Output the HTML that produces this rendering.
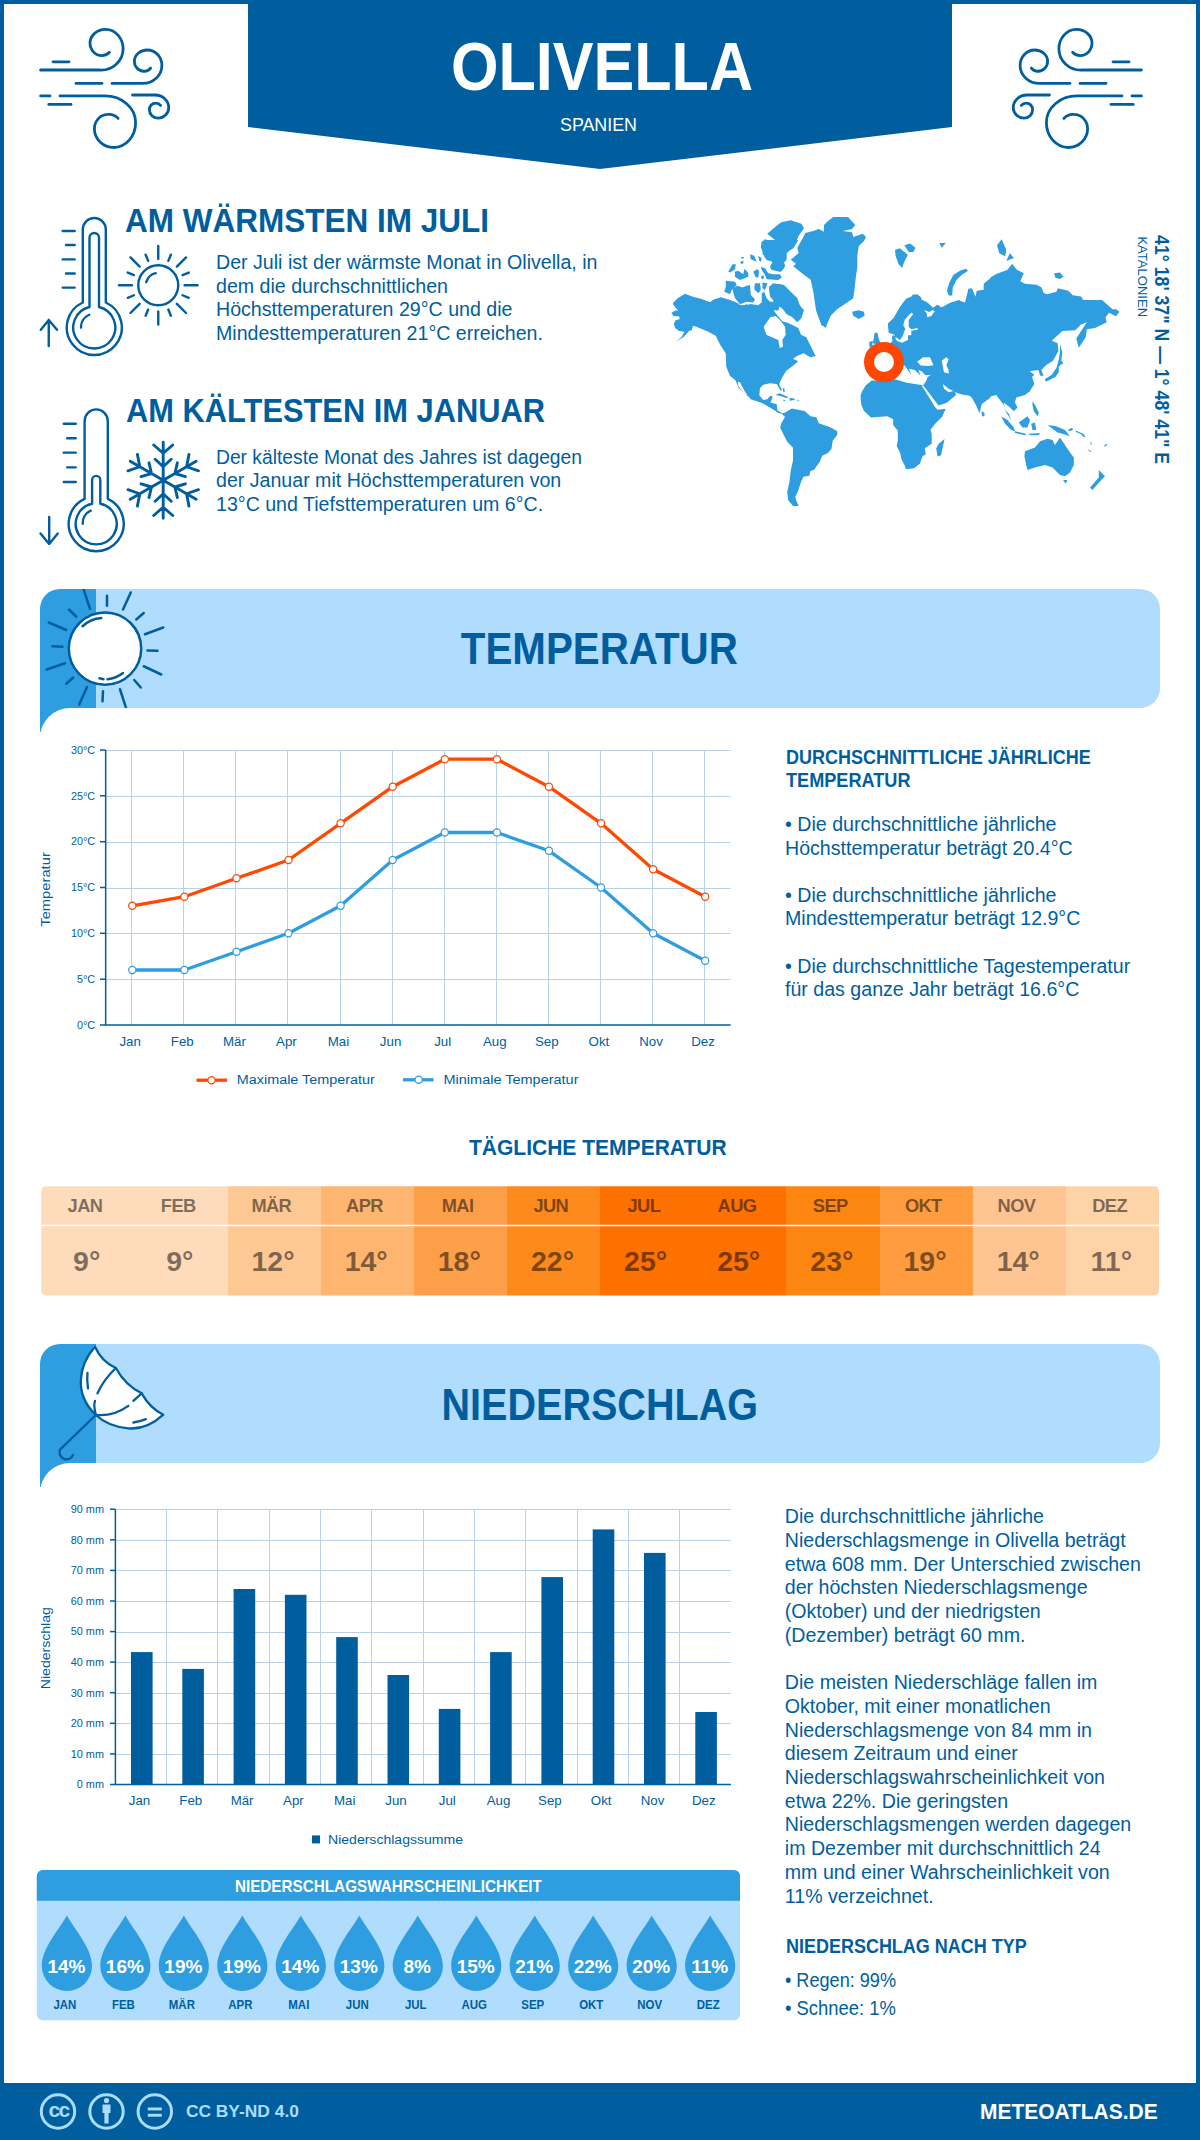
<!DOCTYPE html>
<html><head><meta charset="utf-8">
<style>
html,body{margin:0;padding:0;}
body{width:1200px;height:2140px;position:relative;overflow:hidden;background:#fff;font-family:"Liberation Sans",sans-serif;}
svg{position:absolute;left:0;top:0;}
.b{font-weight:bold;}
</style></head><body>
<svg width="1200" height="2140" viewBox="0 0 1200 2140" font-family="'Liberation Sans', sans-serif">
<!-- page border -->
<rect x="2" y="2" width="1196" height="2136" fill="none" stroke="#005e9f" stroke-width="4"/>
<!-- header banner -->
<polygon points="248,0 952,0 952,127 600,169 248,127" fill="#005e9f"/>
<text x="451" y="90" font-size="68" font-weight="bold" fill="#fff" textLength="302" lengthAdjust="spacingAndGlyphs">OLIVELLA</text>
<text x="560" y="130.7" font-size="18.8" fill="#fff" textLength="77" lengthAdjust="spacingAndGlyphs">SPANIEN</text>
<g id="wind" fill="none" stroke="#005e9f" stroke-width="2.8" stroke-linecap="round">
<path d="M53,61.8 H69"/>
<path d="M40.6,70 H100 A22 21.25 0 0 0 123.1,48.75 A17.5 19.35 0 0 0 105.6,29.4 A15.6 13.7 0 0 0 90,43.1 A11.9 12.5 0 0 0 101.9,55.6 A10 10 0 0 0 109.4,52.25"/>
<path d="M76,83.4 H102 M112,83.4 H142.5 A19.4 17.8 0 0 0 161.9,65.6 A14.65 15.6 0 0 0 147.25,50 A12.85 11.25 0 0 0 134.4,61.25 A9.35 10 0 0 0 143.75,71.25 A8 8 0 0 0 150.6,68.1"/>
<path d="M40.6,95.9 H50 M60,95.9 H105 A30.6 26.6 0 0 1 135.6,122.5 A21.85 25 0 0 1 113.75,147.5 A19.35 18.75 0 0 1 94.4,128.75 A13.7 14.35 0 0 1 108.1,114.4 A12 12 0 0 1 118.1,118.4"/>
<path d="M48.75,104.4 H71"/>
<path d="M132.5,95 H155 A13.75 12.5 0 0 1 168.75,107.5 A10.65 10.6 0 0 1 158.1,118.1 A8.7 8.35 0 0 1 149.4,109.75 A6.2 6.65 0 0 1 155.6,103.1 A6 6 0 0 1 160.6,105.4"/>
</g>
<use href="#wind" transform="translate(1182,0) scale(-1,1)"/>

<g fill="none" stroke="#005e9f" stroke-width="2.4" stroke-linecap="round" stroke-linejoin="round">
<path d="M82.8,302.5 V229.5 A11.5 11.5 0 0 1 105.8,229.5 V302.5 A27.5 27.5 0 1 1 82.8,302.5 Z"/>
<path d="M89.5,307 V237.8 A4.75 4.75 0 0 1 99,237.8 V307 A21 21 0 1 1 89.5,307 Z"/>
<path d="M81,327.5 A13.5 13.5 0 0 1 89.25,314.75"/>
<path d="M62.7,231 H74.7 M66,245 H74.7 M62.7,259.4 H74.7 M66,273.5 H74.7 M62.7,287.6 H74.7"/>
<path d="M48.75,346 V320 M40.8,329.75 L48.75,320 L57,329.75"/>
<circle cx="158.25" cy="285.2" r="20"/>
<path d="M146.25,282.2 A13 13 0 0 1 155.7,273.2"/>
<path d="M184.55,285.20 L197.55,285.20 M182.55,295.26 L188.74,297.83 M176.85,303.80 L186.04,312.99 M168.31,309.50 L170.88,315.69 M158.25,311.50 L158.25,324.50 M148.19,309.50 L145.62,315.69 M139.65,303.80 L130.46,312.99 M133.95,295.26 L127.76,297.83 M131.95,285.20 L118.95,285.20 M133.95,275.14 L127.76,272.57 M139.65,266.60 L130.46,257.41 M148.19,260.90 L145.62,254.71 M158.25,258.90 L158.25,245.90 M168.31,260.90 L170.88,254.71 M176.85,266.60 L186.04,257.41 M182.55,275.14 L188.74,272.57"/>
<path d="M84.6,498.8 V421 A11.6 11.6 0 0 1 107.8,421 V498.8 A27.5 27.5 0 1 1 84.6,498.8 Z"/>
<path d="M92.1,503.8 V480 A4.1 4.1 0 0 1 100.3,480 V503.8 A20.5 20.5 0 1 1 92.1,503.8 Z"/>
<path d="M82.7,523.75 A13.5 13.5 0 0 1 90.75,510.7"/>
<path d="M63.75,423.7 H75.75 M67.2,438.25 H75.75 M63.75,452.65 H75.75 M67.2,467.35 H75.75 M63.75,482 H75.75"/>
<path d="M49.2,517 V544 M40.5,533.5 L49.2,544 L57.75,533.5"/>
<path stroke-width="2.9" d="M163.20,480.25 L163.20,442.25 M172.70,445.00 L163.20,453.25 L153.70,445.00 M171.20,459.25 L163.20,466.75 L155.20,459.25 M163.20,480.25 L196.11,461.25 M198.48,470.85 L186.58,466.75 L188.98,454.40 M185.39,476.68 L174.89,473.50 L177.39,462.82 M163.20,480.25 L196.11,499.25 M188.98,506.10 L186.58,493.75 L198.48,489.65 M177.39,497.68 L174.89,487.00 L185.39,483.82 M163.20,480.25 L163.20,518.25 M153.70,515.50 L163.20,507.25 L172.70,515.50 M155.20,501.25 L163.20,493.75 L171.20,501.25 M163.20,480.25 L130.29,499.25 M127.92,489.65 L139.82,493.75 L137.42,506.10 M141.01,483.82 L151.51,487.00 L149.01,497.68 M163.20,480.25 L130.29,461.25 M137.42,454.40 L139.82,466.75 L127.92,470.85 M149.01,462.82 L151.51,473.50 L141.01,476.68"/>
</g>
<g fill="#005e9f">
<text x="125" y="231.75" font-size="32.3" font-weight="bold" textLength="364" lengthAdjust="spacingAndGlyphs">AM WÄRMSTEN IM JULI</text>
<g font-size="19.6">
<text x="216" y="269" textLength="381.5" lengthAdjust="spacingAndGlyphs">Der Juli ist der wärmste Monat in Olivella, in</text>
<text x="216" y="292.5">dem die durchschnittlichen</text>
<text x="216" y="316">Höchsttemperaturen 29°C und die</text>
<text x="216" y="339.5">Mindesttemperaturen 21°C erreichen.</text>
</g>
<text x="126" y="422" font-size="32.3" font-weight="bold" textLength="419" lengthAdjust="spacingAndGlyphs">AM KÄLTESTEN IM JANUAR</text>
<g font-size="19.6">
<text x="216" y="464" textLength="366" lengthAdjust="spacingAndGlyphs">Der kälteste Monat des Jahres ist dagegen</text>
<text x="216" y="487.25">der Januar mit Höchsttemperaturen von</text>
<text x="216" y="510.5">13°C und Tiefsttemperaturen um 6°C.</text>
</g>
</g>

<!--MAPSTART--><g fill="#2e9ee0"><path d="M673.0,303.0L677.7,298.3L685.0,293.7L690.3,295.7L693.7,297.0L701.7,299.0L710.3,302.3L713.0,299.7L721.0,297.3L725.0,300.3L729.0,299.7L738.3,304.3L745.0,306.0L750.3,304.0L758.3,305.3L761.0,302.7L766.3,302.7L771.7,306.7L775.7,313.3L782.3,321.3L787.7,322.7L793.0,325.3L798.3,328.0L801.0,334.7L806.3,337.3L810.3,345.3L813.0,350.7L815.7,356.0L810.3,357.3L803.7,353.3L797.0,356.0L793.0,358.7L798.3,361.3L791.7,366.7L786.3,370.7L782.3,377.3L779.7,382.7L779.3,384.7L782.0,390.0L780.7,390.7L776.7,384.0L770.0,383.3L763.3,384.7L760.0,388.0L759.3,395.3L763.3,400.0L767.3,399.3L770.0,396.0L772.7,396.3L770.7,402.7L776.7,404.0L777.3,410.0L782.0,413.3L785.3,412.7L784.7,416.7L782.0,414.0L778.0,412.7L774.0,410.0L767.3,406.0L761.3,402.7L750.7,399.3L749.3,397.3L745.0,394.0L742.0,391.3L738.7,388.0L736.7,383.3L735.3,380.0L730.0,376.0L726.3,366.7L725.7,353.3L720.3,345.0L715.7,335.7L708.3,331.7L697.0,327.0L693.0,325.7L691.7,330.3L689.0,331.0L683.7,337.0L675.7,341.7L681.7,337.0L684.3,331.7L679.0,331.0L675.0,327.7L673.7,323.7L675.7,320.3L679.7,319.0L679.0,316.3L673.7,316.3L671.3,313.0L675.7,310.3L678.3,311.0L673.0,304.3Z"/><path d="M767.3,233.7L776.0,226.3L781.3,222.3L790.7,220.3L801.3,223.7L804.0,228.3L798.7,235.7L794.7,245.0L788.0,251.7L782.7,258.3L785.3,266.3L780.0,271.7L770.7,267.7L773.3,261.0L768.0,258.3L762.7,254.3L761.3,242.3L765.3,239.0L770.7,243.7L777.3,245.0L774.7,239.7Z"/><path d="M769.3,286.3L778.7,283.7L784.0,285.0L792.0,293.0L797.3,298.3L800.0,306.3L804.0,310.3L801.3,318.3L797.3,322.3L792.0,317.0L786.7,314.3L782.7,309.0L776.0,303.7L772.0,298.3L769.3,291.7Z"/><path d="M852.0,311.7L858.7,310.3L864.0,311.7L864.7,315.7L858.7,319.0L853.3,315.7Z"/><path d="M725.8,280.8L735.0,281.7L736.7,285.0L731.7,290.0L730.0,294.2L724.2,291.7L725.8,286.7Z"/><path d="M732.5,288.3L737.5,285.8L742.5,287.5L746.7,285.8L750.0,285.0L750.8,295.0L755.0,299.2L753.3,302.5L746.7,301.7L740.0,304.2L735.0,298.3L733.3,292.5Z"/><path d="M728.3,271.7L732.5,264.2L735.8,264.2L735.0,269.2L730.0,272.5Z"/><path d="M735.0,271.7L738.3,270.8L743.3,274.2L744.2,269.2L745.8,270.0L748.3,273.3L748.3,276.7L740.0,280.0L735.0,276.7Z"/><path d="M740.0,261.7L743.3,260.8L743.3,263.3L741.7,264.2Z"/><path d="M740.8,257.5L743.3,256.7L744.2,257.9L741.7,258.8Z"/><path d="M750.0,254.2L754.2,255.8L756.7,261.7L750.8,259.2Z"/><path d="M758.3,255.8L761.7,258.3L760.8,261.7L759.2,260.8Z"/><path d="M753.3,271.7L756.7,269.2L759.2,270.8L758.3,277.5L755.8,277.5Z"/><path d="M760.8,266.7L765.0,268.3L768.3,273.3L773.3,274.2L780.0,274.2L781.7,277.5L778.3,280.0L766.7,279.2L765.0,275.0L761.7,270.0Z"/><path d="M760.8,276.7L763.3,275.0L764.2,278.3L761.7,279.2Z"/><path d="M755.0,283.3L760.0,283.3L760.8,290.0L758.3,293.3L754.2,289.2Z"/><path d="M762.5,282.5L767.5,283.3L765.0,290.0L762.5,288.3Z"/><path d="M769.2,286.7L773.3,283.3L778.3,284.2L781.7,290.0L787.5,291.7L790.0,296.7L796.7,300.0L798.3,303.3L803.3,310.0L801.7,315.0L796.7,311.7L790.0,315.0L785.8,313.3L788.3,308.3L783.3,305.0L778.3,300.0L773.3,300.0L770.0,296.7Z"/><path d="M761.7,293.3L764.2,291.7L766.7,298.3L770.0,301.7L773.3,301.7L775.0,305.0L773.3,315.0L761.7,315.0Z"/><path d="M773.3,300.0L778.3,300.8L780.0,305.0L778.3,310.8L773.3,310.0Z"/><path d="M761.7,243.3L765.0,240.0L798.3,240.0L793.3,248.3L786.7,252.5L786.7,259.2L781.7,265.8L784.2,268.3L780.8,271.7L771.7,270.0L770.0,266.7L772.5,261.7L766.7,260.0L764.2,256.7L763.3,252.5L760.8,247.5Z"/><path d="M715.0,300.0L721.7,297.5L730.0,300.0L738.3,303.3L738.3,306.7L746.7,304.2L751.7,305.8L758.3,306.7L761.7,305.0L763.3,303.3L765.0,315.0L715.0,315.0Z"/><path d="M833.3,217.0L848.0,217.0L855.3,225.0L852.0,229.0L842.7,231.0L852.0,232.3L853.3,237.0L862.7,233.7L866.0,237.0L864.0,241.0L858.7,246.3L857.3,255.7L857.3,267.7L856.0,275.7L854.7,287.7L853.3,298.3L845.3,303.7L837.3,309.0L830.7,315.7L826.7,325.0L826.0,328.0L821.3,325.0L816.0,310.3L813.3,291.7L810.7,279.7L800.0,271.7L793.3,266.3L796.0,263.7L790.7,259.7L798.7,253.0L797.3,247.7L802.7,238.3L805.3,233.0L813.3,231.0L818.7,229.0L824.0,231.7L824.0,225.0L828.0,221.0Z"/><path d="M895.0,250.0L899.7,248.3L907.8,254.7L904.3,261.7L902.0,268.1L898.5,264.0L895.6,255.8Z"/><path d="M904.3,245.3L910.2,243.6L915.4,247.7L913.7,251.8L909.0,252.3Z"/><path d="M939.3,243.0L945.8,243.0L941.7,247.7Z"/><path d="M966.2,268.7L967.9,271.0L961.5,275.1L956.3,280.3L952.8,287.3L952.2,295.5L948.7,295.5L946.9,290.8L949.3,282.7L953.3,275.1L960.3,270.4Z"/><path d="M997.0,245.2L1001.7,239.3L1006.3,249.8L1005.2,256.3L999.3,253.3Z"/><path d="M1006.3,260.9L1009.8,253.3L1013.9,258.0Z"/><path d="M1054.2,273.2L1060.0,272.6L1063.5,276.7L1060.0,279.0L1055.3,277.8Z"/><path d="M874.6,332.7L877.5,332.7L878.7,338.5L880.4,343.2L876.3,344.3L872.8,343.2L874.0,337.3Z"/><path d="M869.3,342.0L872.8,340.8L872.3,346.7L869.3,346.7Z"/><path d="M923.0,385.2L926.0,389.0L932.0,397.0L938.5,405.5L946.8,402.8L956.2,394.7L953.8,390.0L950.0,387.0L955.7,392.5L962.0,394.5L969.7,395.7L972.0,398.0L976.0,405.2L979.5,413.3L981.8,404.0L990.0,398.0L991.2,396.2L996.2,395.0L1000.0,400.0L1003.8,405.0L1006.2,412.5L1011.2,420.0L1008.8,413.8L1005.0,410.0L1003.8,402.5L1010.0,407.5L1013.8,411.2L1017.5,407.5L1015.0,402.5L1016.2,397.5L1025.0,395.0L1031.2,390.0L1028.5,393.3L1034.3,384.0L1032.0,377.0L1034.3,374.7L1029.7,371.2L1038.4,370.0L1040.2,375.8L1043.7,375.8L1041.3,370.0L1046.0,365.3L1053.0,360.7L1058.3,351.3L1057.7,343.2L1051.8,340.8L1062.3,330.9L1075.2,330.3L1081.0,324.5L1086.8,322.2L1076.3,338.5L1078.7,347.8L1085.7,337.3L1086.8,329.2L1095.0,328.0L1106.7,322.2L1105.5,317.5L1109.0,312.8L1116.0,316.3L1119.5,311.7L1116.0,309.3L1112.5,309.3L1102.0,300.0L1095.0,300.0L1083.3,300.0L1081.0,296.5L1072.8,295.3L1068.2,290.7L1057.7,288.3L1056.5,291.8L1047.2,294.2L1043.7,293.0L1041.3,287.2L1036.7,284.8L1025.0,283.7L1020.3,281.3L1023.8,273.2L1016.8,269.7L1012.2,263.8L1007.5,269.7L995.8,274.3L990.0,277.8L990.7,278.0L983.7,283.8L983.7,289.7L976.7,290.8L975.5,296.7L972.0,288.5L968.5,288.5L965.0,302.5L958.0,300.2L951.0,302.5L941.7,307.2L935.8,306.0L932.3,308.3L930.0,311.8L925.3,309.5L928.8,303.7L921.8,300.2L920.7,296.7L914.8,294.9L906.7,299.0L899.7,308.3L892.7,320.0L893.8,317.5L888.0,324.5L889.2,332.7L895.0,335.0L893.8,339.7L891.5,342.0L886.8,346.7L883.3,346.7L878.7,350.2L871.7,352.5L869.3,360.7L870.5,370.0L877.5,372.3L889.2,370.0L898.5,365.3L904.3,365.3L911.3,374.7L909.0,368.8L914.8,370.0L920.7,375.8L918.3,370.0L921.8,371.2L925.3,375.3L931.2,374.7L927.7,377.0L925.9,381.7Z"/><path d="M888.0,323.3L893.3,318.7L900.0,306.7L906.0,298.7L911.3,296.7L912.7,294.7L917.3,294.3L920.0,296.7L920.7,299.3L926.7,302.0L932.7,307.3L932.7,310.0L936.7,304.7L940.0,306.0L940.7,309.3L946.7,304.7L949.3,303.3L956.7,301.3L960.0,300.0L960.0,345.0L892.7,345.0L892.0,336.7L894.0,334.7L896.0,338.0L897.3,338.7L895.3,332.0L890.7,333.3L888.7,332.7Z"/><path d="M923.0,385.2L906.7,382.8L895.0,379.3L881.0,380.5L871.7,380.5L865.8,385.2L862.3,391.0L860.5,395.8L861.1,404.0L864.0,411.0L871.0,417.4L880.3,416.8L887.3,416.3L893.2,419.2L893.2,425.0L897.8,430.8L897.8,440.2L896.7,446.0L900.2,453.0L901.3,458.8L904.8,465.8L906.0,469.3L914.2,468.2L920.0,463.5L922.3,456.5L925.8,454.2L924.7,448.3L931.7,443.7L931.7,434.3L930.5,429.7L935.2,423.8L942.2,416.8L945.7,408.7L937.5,409.8L935.0,407.0L924.5,390.0L922.0,386.0Z"/><path d="M944.5,439.0L943.3,444.8L941.0,455.3L937.5,456.5L936.3,448.3L938.7,443.7Z"/><path d="M1025.0,451.2L1035.0,447.5L1040.0,441.2L1047.5,438.8L1052.5,440.0L1055.0,445.0L1060.0,437.5L1065.0,445.0L1070.0,452.5L1073.8,457.5L1073.8,465.0L1070.0,472.5L1065.0,476.2L1060.0,475.0L1055.0,470.0L1052.5,467.5L1045.0,465.0L1035.0,467.5L1027.5,470.0L1026.2,465.0L1024.4,456.2Z"/><path d="M1063.1,480.0L1067.5,480.0L1065.6,483.8Z"/><path d="M1098.8,470.0L1105.0,476.2L1101.2,480.0L1092.5,490.0L1090.0,487.5L1098.8,477.5Z"/><path d="M1047.5,425.0L1056.2,426.2L1065.0,430.0L1070.0,436.2L1062.5,433.8L1057.5,432.5L1052.5,428.8Z"/><path d="M1018.8,422.5L1027.5,416.2L1030.0,420.0L1027.5,427.5L1022.5,427.5Z"/><path d="M1001.2,416.2L1007.5,420.0L1013.8,427.5L1015.0,431.2L1011.2,430.0L1005.0,423.8Z"/><path d="M1015.0,431.2L1026.2,433.8L1025.0,435.2L1015.0,433.1Z"/><path d="M1032.5,401.2L1035.0,405.0L1038.8,412.5L1037.5,416.2L1033.8,411.2L1032.5,405.0Z"/><path d="M981.5,411.0L984.5,413.0L984.5,416.0L982.0,416.5Z"/><path d="M1031.2,423.8L1035.0,422.5L1036.2,430.0L1032.5,430.0Z"/><path d="M1028.8,433.8L1040.0,433.1L1038.8,435.0L1030.0,435.2Z"/><path d="M1060.0,344.3L1062.3,352.5L1061.2,360.7L1063.5,363.0L1058.8,366.5L1058.8,372.3L1055.3,377.0L1046.0,381.7L1044.8,379.3L1051.8,374.7L1056.5,367.7L1058.8,359.5L1060.0,352.5Z"/><path d="M1068.0,430.0L1071.3,428.0L1073.3,428.7L1072.7,430.0L1069.3,431.3Z"/><path d="M1075.3,430.3L1077.3,431.3L1082.0,433.3L1084.0,434.3L1085.3,437.3L1083.3,436.7L1081.3,434.3L1076.0,432.0Z"/><path d="M1090.0,442.0L1091.0,442.3L1092.0,444.7L1091.0,444.8Z"/><path d="M1087.3,449.3L1088.7,449.7L1091.3,451.3L1090.3,452.0Z"/><path d="M1104.0,446.0L1106.0,444.0L1107.3,444.3L1105.3,446.7Z"/><path d="M784.8,412.7L791.8,408.6L804.7,410.9L810.5,416.2L816.3,417.3L818.7,423.2L830.3,427.3L837.3,431.3L837.3,434.8L832.7,440.7L831.5,448.8L828.0,452.9L822.2,455.8L819.8,461.7L814.0,469.8L810.5,471.0L809.3,475.7L803.5,476.8L801.2,481.5L797.7,492.0L795.3,496.7L796.5,501.3L798.8,506.0L793.0,506.0L788.3,500.2L787.2,492.0L789.5,481.5L790.7,471.0L793.0,460.5L793.0,447.7L787.2,441.8L782.5,432.5L780.2,427.8L781.3,423.2L784.8,417.3Z"/><path d="M776.0,394.7L779.3,393.3L783.3,394.7L788.7,397.3L786.0,398.0L780.7,396.0L776.7,395.3Z"/><path d="M789.3,398.0L793.3,398.3L795.3,399.7L790.0,400.7Z"/><path d="M783.3,399.7L785.3,400.0L785.0,401.0L783.3,400.8Z"/><path d="M797.3,399.7L799.3,400.0L799.0,400.8L797.3,400.7Z"/><path d="M782.7,388.0L784.3,388.3L784.7,392.0L783.3,392.3Z"/></g><g fill="#fff"><path d="M763.7,326.7L770.3,317.3L775.7,316.0L781.0,321.3L785.0,326.7L785.7,334.7L782.3,340.0L783.0,346.7L779.7,348.0L778.3,340.0L771.7,337.3L766.3,334.7Z"/><path d="M917.2,361.8L923.0,357.2L930.0,357.2L933.5,365.3L927.7,365.9L920.7,365.6Z"/><path d="M941.7,360.7L946.3,357.2L948.7,359.5L946.3,365.3L948.7,370.0L948.7,373.5L944.0,372.3L942.8,366.5Z"/><path d="M924.0,310.0L929.3,312.0L932.7,310.0L934.7,311.3L931.3,316.0L927.3,317.3L926.7,313.3Z"/><path d="M908.0,316.0L911.3,312.7L913.3,314.0L908.7,320.0L908.7,326.7L911.3,329.3L917.3,328.0L918.0,329.7L911.3,330.7L911.3,335.3L908.0,335.3L908.0,340.0L902.0,342.7L896.7,340.7L895.3,338.0L896.0,337.3L900.0,340.0L902.7,336.0L905.3,328.7L903.3,325.3L904.7,320.0Z"/><path d="M942.8,384.0L948.7,388.7L953.3,391.0L948.7,392.2L944.0,388.7Z"/><path d="M737.7,381.7L740.0,382.3L745.0,391.7L747.3,394.7L746.0,395.0L742.7,392.0L738.3,385.7Z"/></g><circle cx="884" cy="362" r="15" fill="#fff" stroke="#ff4600" stroke-width="10"/><!--MAPEND-->
<text transform="translate(1154.7,235.1) rotate(90)" font-size="20.8" font-weight="bold" fill="#005e9f" textLength="229" lengthAdjust="spacingAndGlyphs">41° 18' 37" N — 1° 48' 41" E</text>
<text transform="translate(1138,236.4) rotate(90)" font-size="12.6" fill="#005e9f" textLength="80.7" lengthAdjust="spacingAndGlyphs">KATALONIEN</text>
<!--TEMPHDR-->
<path d="M40,609 A20,20 0 0 1 60,589 H96 V732 H40 Z" fill="#2e9ee0"/>
<path d="M96,589 H1140 A20,20 0 0 1 1160,609 V688 A20,20 0 0 1 1140,708 H96 Z" fill="#b0dcfd"/>
<path d="M40,738 A30,30 0 0 1 70,708 H110 V749 H40 Z" fill="#fff"/>
<clipPath id="cp589"><rect x="40" y="589" width="200" height="119"/></clipPath>
<g clip-path="url(#cp589)"><g fill="none" stroke="#005e9f" stroke-width="2.5" stroke-linecap="round"><path d="M81.5,583 L90,608.75"/><path d="M107,595.75 L107,605.75"/><path d="M130.75,592.5 L123,609.5"/><path d="M143.75,613 L136.25,619.5"/><path d="M163.25,627.5 L145,634.25"/><path d="M157.5,650.75 L147.5,650.5"/><path d="M161.25,674.5 L143.75,666.25"/><path d="M140.75,687.5 L134.25,680"/><path d="M128,714 L120,689.25"/><path d="M102.5,701.25 L103,691.25"/><path d="M79.25,704.5 L87,687"/><path d="M66.25,683.75 L73.25,677.5"/><path d="M46.75,669.5 L65,663.25"/><path d="M52.5,646.25 L62.5,646.75"/><path d="M48.75,622.5 L66.25,630"/><path d="M69,609.5 L76.25,616.75"/><circle cx="105" cy="648.6" r="36.2" fill="#fff"/><path d="M82.5,626.25 A31 31 0 0 1 101.25,618"/><path d="M99.5,678.25 L103.5,679.2 M107.5,679.25 A31 31 0 0 0 123,673"/></g></g>
<text x="460.8" y="663.8" font-size="43.6" font-weight="bold" fill="#005e9f" textLength="277" lengthAdjust="spacingAndGlyphs">TEMPERATUR</text>
<!--TEMPHDREND-->
<!--TEMPCHART-->
<g stroke="#b9d2e8" stroke-width="1" fill="none">
<path d="M105.67,979.5 H730.6"/>
<path d="M105.67,933.5 H730.6"/>
<path d="M105.67,888.5 H730.6"/>
<path d="M105.67,842.5 H730.6"/>
<path d="M105.67,796.5 H730.6"/>
<path d="M105.67,750.5 H730.6"/>
<path d="M131.5,750 V1025"/>
<path d="M183.5,750 V1025"/>
<path d="M235.5,750 V1025"/>
<path d="M287.5,750 V1025"/>
<path d="M340.5,750 V1025"/>
<path d="M392.5,750 V1025"/>
<path d="M444.5,750 V1025"/>
<path d="M496.5,750 V1025"/>
<path d="M548.5,750 V1025"/>
<path d="M600.5,750 V1025"/>
<path d="M652.5,750 V1025"/>
<path d="M704.5,750 V1025"/>
</g>
<g stroke="#005e9f" stroke-width="1.5" fill="none"><path d="M105.67,750 V1025 H730.6"/>
<path d="M100,1025.0 H105.67"/>
<path d="M100,979.2 H105.67"/>
<path d="M100,933.3 H105.67"/>
<path d="M100,887.5 H105.67"/>
<path d="M100,841.7 H105.67"/>
<path d="M100,795.8 H105.67"/>
<path d="M100,750.0 H105.67"/>
</g>
<g fill="#005e9f" font-size="10.8" text-anchor="end">
<text x="95" y="1028.7">0°C</text>
<text x="95" y="982.9">5°C</text>
<text x="95" y="937.0">10°C</text>
<text x="95" y="891.2">15°C</text>
<text x="95" y="845.4">20°C</text>
<text x="95" y="799.5">25°C</text>
<text x="95" y="753.7">30°C</text>
</g>
<g fill="#005e9f" font-size="13.3" text-anchor="middle">
<text x="130.2" y="1045.9">Jan</text>
<text x="182.3" y="1045.9">Feb</text>
<text x="234.4" y="1045.9">Mär</text>
<text x="286.4" y="1045.9">Apr</text>
<text x="338.5" y="1045.9">Mai</text>
<text x="390.6" y="1045.9">Jun</text>
<text x="442.7" y="1045.9">Jul</text>
<text x="494.8" y="1045.9">Aug</text>
<text x="546.8" y="1045.9">Sep</text>
<text x="598.9" y="1045.9">Okt</text>
<text x="651.0" y="1045.9">Nov</text>
<text x="703.1" y="1045.9">Dez</text>
</g>
<text transform="translate(50,926.7) rotate(-90)" font-size="12.5" fill="#005e9f" textLength="74.5" lengthAdjust="spacingAndGlyphs">Temperatur</text>
<path d="M132.3,905.8 L184.4,896.7 L236.5,878.3 L288.5,860.0 L340.6,823.3 L392.7,786.7 L444.8,759.2 L496.9,759.2 L548.9,786.7 L601.0,823.3 L653.1,869.2 L705.2,896.7" fill="none" stroke="#ff4800" stroke-width="3.3" stroke-linejoin="round"/>
<g fill="#fff" stroke="#ff4800" stroke-width="1.2"><circle cx="132.3" cy="905.8" r="3.6"/><circle cx="184.4" cy="896.7" r="3.6"/><circle cx="236.5" cy="878.3" r="3.6"/><circle cx="288.5" cy="860.0" r="3.6"/><circle cx="340.6" cy="823.3" r="3.6"/><circle cx="392.7" cy="786.7" r="3.6"/><circle cx="444.8" cy="759.2" r="3.6"/><circle cx="496.9" cy="759.2" r="3.6"/><circle cx="548.9" cy="786.7" r="3.6"/><circle cx="601.0" cy="823.3" r="3.6"/><circle cx="653.1" cy="869.2" r="3.6"/><circle cx="705.2" cy="896.7" r="3.6"/></g>
<path d="M132.3,970.0 L184.4,970.0 L236.5,951.7 L288.5,933.3 L340.6,905.8 L392.7,860.0 L444.8,832.5 L496.9,832.5 L548.9,850.8 L601.0,887.5 L653.1,933.3 L705.2,960.8" fill="none" stroke="#2e9ee0" stroke-width="3.3" stroke-linejoin="round"/>
<g fill="#fff" stroke="#2e9ee0" stroke-width="1.2"><circle cx="132.3" cy="970.0" r="3.6"/><circle cx="184.4" cy="970.0" r="3.6"/><circle cx="236.5" cy="951.7" r="3.6"/><circle cx="288.5" cy="933.3" r="3.6"/><circle cx="340.6" cy="905.8" r="3.6"/><circle cx="392.7" cy="860.0" r="3.6"/><circle cx="444.8" cy="832.5" r="3.6"/><circle cx="496.9" cy="832.5" r="3.6"/><circle cx="548.9" cy="850.8" r="3.6"/><circle cx="601.0" cy="887.5" r="3.6"/><circle cx="653.1" cy="933.3" r="3.6"/><circle cx="705.2" cy="960.8" r="3.6"/></g>
<path d="M196.5,1080.2 H227" stroke="#ff4800" stroke-width="3.3"/><circle cx="211.5" cy="1080.2" r="3.6" fill="#fff" stroke="#ff4800" stroke-width="1.2"/>
<text x="236.8" y="1083.9" font-size="12.5" fill="#005e9f" textLength="138" lengthAdjust="spacingAndGlyphs">Maximale Temperatur</text>
<path d="M403,1079.8 H433.6" stroke="#2e9ee0" stroke-width="3.3"/><circle cx="418.6" cy="1079.8" r="3.6" fill="#fff" stroke="#2e9ee0" stroke-width="1.2"/>
<text x="443.5" y="1083.5" font-size="12.5" fill="#005e9f" textLength="135" lengthAdjust="spacingAndGlyphs">Minimale Temperatur</text>
<g fill="#005e9f">
<text x="786" y="764.3" font-size="20.6" font-weight="bold" textLength="304.7" lengthAdjust="spacingAndGlyphs">DURCHSCHNITTLICHE JÄHRLICHE</text>
<text x="786" y="787.3" font-size="20.6" font-weight="bold" textLength="124.5" lengthAdjust="spacingAndGlyphs">TEMPERATUR</text>
<text x="785" y="831" font-size="19.6">• Die durchschnittliche jährliche</text>
<text x="785" y="854.5" font-size="19.6">Höchsttemperatur beträgt 20.4°C</text>
<text x="785" y="901.7" font-size="19.6">• Die durchschnittliche jährliche</text>
<text x="785" y="925.2" font-size="19.6">Mindesttemperatur beträgt 12.9°C</text>
<text x="785" y="972.7" font-size="19.6">• Die durchschnittliche Tagestemperatur</text>
<text x="785" y="996.2" font-size="19.6">für das ganze Jahr beträgt 16.6°C</text>
</g>
<!--TEMPCHARTEND-->
<!--DAILY-->
<text x="468.9" y="1154.9" font-size="22.4" font-weight="bold" fill="#005e9f" textLength="257.8" lengthAdjust="spacingAndGlyphs">TÄGLICHE TEMPERATUR</text>
<clipPath id="tbl"><rect x="41.25" y="1186.25" width="1117.75" height="109.25" rx="5"/></clipPath><g clip-path="url(#tbl)">
<rect x="41" y="1186" width="93" height="110" fill="#fedbbb" shape-rendering="crispEdges"/>
<rect x="134" y="1186" width="94" height="110" fill="#fedbbb" shape-rendering="crispEdges"/>
<rect x="228" y="1186" width="93" height="110" fill="#fec895" shape-rendering="crispEdges"/>
<rect x="321" y="1186" width="93" height="110" fill="#feb570" shape-rendering="crispEdges"/>
<rect x="414" y="1186" width="93" height="110" fill="#fd9f48" shape-rendering="crispEdges"/>
<rect x="507" y="1186" width="93" height="110" fill="#fc8a1c" shape-rendering="crispEdges"/>
<rect x="600" y="1186" width="93" height="110" fill="#fc7100" shape-rendering="crispEdges"/>
<rect x="693" y="1186" width="93" height="110" fill="#fc7100" shape-rendering="crispEdges"/>
<rect x="786" y="1186" width="94" height="110" fill="#fd8612" shape-rendering="crispEdges"/>
<rect x="880" y="1186" width="93" height="110" fill="#fe9c3f" shape-rendering="crispEdges"/>
<rect x="973" y="1186" width="93" height="110" fill="#fec592" shape-rendering="crispEdges"/>
<rect x="1066" y="1186" width="94" height="110" fill="#fed3a8" shape-rendering="crispEdges"/>
</g>
<path d="M41.25,1225.4 H1159" stroke="#fff" stroke-width="1.5"/>
<g font-weight="bold" fill="#000" fill-opacity="0.5" text-anchor="middle">
<text x="85.0" y="1211.8" font-size="18.3" letter-spacing="-0.6">JAN</text>
<text x="86.7" y="1270.8" font-size="28.5">9°</text>
<text x="178.2" y="1211.8" font-size="18.3" letter-spacing="-0.6">FEB</text>
<text x="179.9" y="1270.8" font-size="28.5">9°</text>
<text x="271.3" y="1211.8" font-size="18.3" letter-spacing="-0.6">MÄR</text>
<text x="273.0" y="1270.8" font-size="28.5">12°</text>
<text x="364.5" y="1211.8" font-size="18.3" letter-spacing="-0.6">APR</text>
<text x="366.2" y="1270.8" font-size="28.5">14°</text>
<text x="457.6" y="1211.8" font-size="18.3" letter-spacing="-0.6">MAI</text>
<text x="459.3" y="1270.8" font-size="28.5">18°</text>
<text x="550.8" y="1211.8" font-size="18.3" letter-spacing="-0.6">JUN</text>
<text x="552.5" y="1270.8" font-size="28.5">22°</text>
<text x="643.9" y="1211.8" font-size="18.3" letter-spacing="-0.6">JUL</text>
<text x="645.6" y="1270.8" font-size="28.5">25°</text>
<text x="737.0" y="1211.8" font-size="18.3" letter-spacing="-0.6">AUG</text>
<text x="738.7" y="1270.8" font-size="28.5">25°</text>
<text x="830.2" y="1211.8" font-size="18.3" letter-spacing="-0.6">SEP</text>
<text x="831.9" y="1270.8" font-size="28.5">23°</text>
<text x="923.3" y="1211.8" font-size="18.3" letter-spacing="-0.6">OKT</text>
<text x="925.0" y="1270.8" font-size="28.5">19°</text>
<text x="1016.5" y="1211.8" font-size="18.3" letter-spacing="-0.6">NOV</text>
<text x="1018.2" y="1270.8" font-size="28.5">14°</text>
<text x="1109.6" y="1211.8" font-size="18.3" letter-spacing="-0.6">DEZ</text>
<text x="1111.3" y="1270.8" font-size="28.5">11°</text>
</g>
<!--DAILYEND-->
<!--PRECHDR-->
<path d="M40,1364 A20,20 0 0 1 60,1344 H96 V1487 H40 Z" fill="#2e9ee0"/>
<path d="M96,1344 H1140 A20,20 0 0 1 1160,1364 V1443 A20,20 0 0 1 1140,1463 H96 Z" fill="#b0dcfd"/>
<path d="M40,1493 A30,30 0 0 1 70,1463 H110 V1504 H40 Z" fill="#fff"/>
<clipPath id="cp1344"><rect x="40" y="1344" width="200" height="119"/></clipPath>
<g clip-path="url(#cp1344)"><g fill="none" stroke="#005e9f" stroke-width="2.3" stroke-linecap="round" stroke-linejoin="round"><path d="M95.83,1415.00 L60.00,1449.67 A5.0 5.0 0 0 0 73.00,1455.00"/><path fill="#fff" d="M95.00,1346.67 Q101.67,1361.67 115.83,1368.00 Q125.00,1385.00 141.67,1393.33 Q150.00,1408.33 163.33,1414.67 Q146.67,1430.00 128.33,1428.33 Q108.33,1426.67 95.83,1415.00 Q80.00,1400.00 80.83,1380.00 Q81.67,1361.67 95.00,1346.67 Z"/><path d="M95.83,1415.00 Q93.33,1405.00 95.00,1400.83"/><path d="M97.50,1393.33 Q103.33,1380.00 115.83,1368.00"/><path d="M95.83,1415.00 Q113.33,1416.67 128.33,1405.83"/><path d="M133.33,1400.83 L141.67,1393.33"/><path d="M87.50,1373.00 Q86.67,1380.00 88.00,1388.33"/><path d="M133.33,1422.50 Q140.00,1421.67 145.83,1419.17"/></g></g>
<text x="441.5" y="1419.6" font-size="43.6" font-weight="bold" fill="#005e9f" textLength="316.5" lengthAdjust="spacingAndGlyphs">NIEDERSCHLAG</text>
<!--PRECHDREND-->
<!--PRECCHART-->
<g stroke="#b9d2e8" stroke-width="1" fill="none">
<path d="M115.4,1754.5 H730.9"/>
<path d="M115.4,1723.5 H730.9"/>
<path d="M115.4,1693.5 H730.9"/>
<path d="M115.4,1662.5 H730.9"/>
<path d="M115.4,1632.5 H730.9"/>
<path d="M115.4,1601.5 H730.9"/>
<path d="M115.4,1570.5 H730.9"/>
<path d="M115.4,1540.5 H730.9"/>
<path d="M115.4,1509.5 H730.9"/>
<path d="M166.5,1509.2 V1784.5"/>
<path d="M217.5,1509.2 V1784.5"/>
<path d="M269.5,1509.2 V1784.5"/>
<path d="M320.5,1509.2 V1784.5"/>
<path d="M371.5,1509.2 V1784.5"/>
<path d="M423.5,1509.2 V1784.5"/>
<path d="M474.5,1509.2 V1784.5"/>
<path d="M525.5,1509.2 V1784.5"/>
<path d="M577.5,1509.2 V1784.5"/>
<path d="M628.5,1509.2 V1784.5"/>
<path d="M679.5,1509.2 V1784.5"/>
</g>
<g fill="#005e9f">
<rect x="131.0" y="1652.1" width="21.6" height="132.4"/>
<rect x="182.3" y="1668.9" width="21.6" height="115.6"/>
<rect x="233.6" y="1589.0" width="21.6" height="195.5"/>
<rect x="284.9" y="1594.8" width="21.6" height="189.7"/>
<rect x="336.2" y="1637.1" width="21.6" height="147.4"/>
<rect x="387.5" y="1675.0" width="21.6" height="109.5"/>
<rect x="438.8" y="1708.9" width="21.6" height="75.6"/>
<rect x="490.1" y="1652.1" width="21.6" height="132.4"/>
<rect x="541.4" y="1577.1" width="21.6" height="207.4"/>
<rect x="592.7" y="1529.4" width="21.6" height="255.1"/>
<rect x="644.0" y="1552.9" width="21.6" height="231.6"/>
<rect x="695.3" y="1712.0" width="21.6" height="72.5"/>
</g>
<g stroke="#005e9f" stroke-width="1.5" fill="none"><path d="M115.4,1509.2 V1784.5 H730.9"/>
<path d="M110,1784.5 H115.4"/>
<path d="M110,1753.9 H115.4"/>
<path d="M110,1723.3 H115.4"/>
<path d="M110,1692.7 H115.4"/>
<path d="M110,1662.1 H115.4"/>
<path d="M110,1631.6 H115.4"/>
<path d="M110,1601.0 H115.4"/>
<path d="M110,1570.4 H115.4"/>
<path d="M110,1539.8 H115.4"/>
<path d="M110,1509.2 H115.4"/>
</g>
<g fill="#005e9f" font-size="10.9" text-anchor="end">
<text x="104" y="1788.3">0 mm</text>
<text x="104" y="1757.7">10 mm</text>
<text x="104" y="1727.1">20 mm</text>
<text x="104" y="1696.5">30 mm</text>
<text x="104" y="1665.9">40 mm</text>
<text x="104" y="1635.4">50 mm</text>
<text x="104" y="1604.8">60 mm</text>
<text x="104" y="1574.2">70 mm</text>
<text x="104" y="1543.6">80 mm</text>
<text x="104" y="1513.0">90 mm</text>
</g>
<g fill="#005e9f" font-size="13.3" text-anchor="middle">
<text x="139.5" y="1805.3">Jan</text>
<text x="190.8" y="1805.3">Feb</text>
<text x="242.1" y="1805.3">Mär</text>
<text x="293.4" y="1805.3">Apr</text>
<text x="344.7" y="1805.3">Mai</text>
<text x="396.0" y="1805.3">Jun</text>
<text x="447.3" y="1805.3">Jul</text>
<text x="498.6" y="1805.3">Aug</text>
<text x="549.9" y="1805.3">Sep</text>
<text x="601.2" y="1805.3">Okt</text>
<text x="652.5" y="1805.3">Nov</text>
<text x="703.8" y="1805.3">Dez</text>
</g>
<text transform="translate(50,1689.2) rotate(-90)" font-size="12.5" fill="#005e9f" textLength="82" lengthAdjust="spacingAndGlyphs">Niederschlag</text>
<rect x="312" y="1835.4" width="8" height="8" fill="#005e9f"/>
<text x="328" y="1843.5" font-size="12.5" fill="#005e9f" textLength="135" lengthAdjust="spacingAndGlyphs">Niederschlagssumme</text>
<g fill="#005e9f" font-size="19.6">
<text x="784.8" y="1523.3">Die durchschnittliche jährliche</text>
<text x="784.8" y="1547.0">Niederschlagsmenge in Olivella beträgt</text>
<text x="784.8" y="1570.7">etwa 608 mm. Der Unterschied zwischen</text>
<text x="784.8" y="1594.4">der höchsten Niederschlagsmenge</text>
<text x="784.8" y="1618.1">(Oktober) und der niedrigsten</text>
<text x="784.8" y="1641.8">(Dezember) beträgt 60 mm.</text>
<text x="784.8" y="1689.2">Die meisten Niederschläge fallen im</text>
<text x="784.8" y="1712.9">Oktober, mit einer monatlichen</text>
<text x="784.8" y="1736.6">Niederschlagsmenge von 84 mm in</text>
<text x="784.8" y="1760.3">diesem Zeitraum und einer</text>
<text x="784.8" y="1784.0">Niederschlagswahrscheinlichkeit von</text>
<text x="784.8" y="1807.7">etwa 22%. Die geringsten</text>
<text x="784.8" y="1831.4">Niederschlagsmengen werden dagegen</text>
<text x="784.8" y="1855.1">im Dezember mit durchschnittlich 24</text>
<text x="784.8" y="1878.8">mm und einer Wahrscheinlichkeit von</text>
<text x="784.8" y="1902.5">11% verzeichnet.</text>
</g>
<text x="786" y="1953.3" font-size="19.3" font-weight="bold" fill="#005e9f" textLength="240.7" lengthAdjust="spacingAndGlyphs">NIEDERSCHLAG NACH TYP</text>
<text x="785" y="1986.7" font-size="19.6" fill="#005e9f" textLength="111" lengthAdjust="spacingAndGlyphs">• Regen: 99%</text>
<text x="785" y="2015" font-size="19.6" fill="#005e9f" textLength="111" lengthAdjust="spacingAndGlyphs">• Schnee: 1%</text>
<rect x="36.8" y="1869.9" width="703.2" height="150.4" rx="6" fill="#b0dcfd"/>
<path d="M36.8,1900.7 V1875.9 A6,6 0 0 1 42.8,1869.9 H734 A6,6 0 0 1 740,1875.9 V1900.7 Z" fill="#2e9ee0"/>
<text x="388.4" y="1892.4" text-anchor="middle" font-size="15.7" font-weight="bold" fill="#fff" textLength="307" lengthAdjust="spacingAndGlyphs">NIEDERSCHLAGSWAHRSCHEINLICHKEIT</text>
<path d="M66.90,1915.40 C74.90,1929.90 92.00,1947.90 92.00,1965.90 A25.1,25.1 0 0 1 41.80,1965.90 C41.80,1947.90 58.90,1929.90 66.90,1915.40 Z" fill="#2e9ee0"/>
<text x="66.40" y="1973" text-anchor="middle" font-size="19" font-weight="bold" fill="#fff">14%</text>
<text transform="translate(64.90,2009) scale(0.85,1)" text-anchor="middle" font-size="13.5" font-weight="bold" fill="#005e9f">JAN</text>
<path d="M125.38,1915.40 C133.38,1929.90 150.48,1947.90 150.48,1965.90 A25.1,25.1 0 0 1 100.28,1965.90 C100.28,1947.90 117.38,1929.90 125.38,1915.40 Z" fill="#2e9ee0"/>
<text x="124.88" y="1973" text-anchor="middle" font-size="19" font-weight="bold" fill="#fff">16%</text>
<text transform="translate(123.38,2009) scale(0.85,1)" text-anchor="middle" font-size="13.5" font-weight="bold" fill="#005e9f">FEB</text>
<path d="M183.86,1915.40 C191.86,1929.90 208.96,1947.90 208.96,1965.90 A25.1,25.1 0 0 1 158.76,1965.90 C158.76,1947.90 175.86,1929.90 183.86,1915.40 Z" fill="#2e9ee0"/>
<text x="183.36" y="1973" text-anchor="middle" font-size="19" font-weight="bold" fill="#fff">19%</text>
<text transform="translate(181.86,2009) scale(0.85,1)" text-anchor="middle" font-size="13.5" font-weight="bold" fill="#005e9f">MÄR</text>
<path d="M242.34,1915.40 C250.34,1929.90 267.44,1947.90 267.44,1965.90 A25.1,25.1 0 0 1 217.24,1965.90 C217.24,1947.90 234.34,1929.90 242.34,1915.40 Z" fill="#2e9ee0"/>
<text x="241.84" y="1973" text-anchor="middle" font-size="19" font-weight="bold" fill="#fff">19%</text>
<text transform="translate(240.34,2009) scale(0.85,1)" text-anchor="middle" font-size="13.5" font-weight="bold" fill="#005e9f">APR</text>
<path d="M300.82,1915.40 C308.82,1929.90 325.92,1947.90 325.92,1965.90 A25.1,25.1 0 0 1 275.72,1965.90 C275.72,1947.90 292.82,1929.90 300.82,1915.40 Z" fill="#2e9ee0"/>
<text x="300.32" y="1973" text-anchor="middle" font-size="19" font-weight="bold" fill="#fff">14%</text>
<text transform="translate(298.82,2009) scale(0.85,1)" text-anchor="middle" font-size="13.5" font-weight="bold" fill="#005e9f">MAI</text>
<path d="M359.30,1915.40 C367.30,1929.90 384.40,1947.90 384.40,1965.90 A25.1,25.1 0 0 1 334.20,1965.90 C334.20,1947.90 351.30,1929.90 359.30,1915.40 Z" fill="#2e9ee0"/>
<text x="358.80" y="1973" text-anchor="middle" font-size="19" font-weight="bold" fill="#fff">13%</text>
<text transform="translate(357.30,2009) scale(0.85,1)" text-anchor="middle" font-size="13.5" font-weight="bold" fill="#005e9f">JUN</text>
<path d="M417.78,1915.40 C425.78,1929.90 442.88,1947.90 442.88,1965.90 A25.1,25.1 0 0 1 392.68,1965.90 C392.68,1947.90 409.78,1929.90 417.78,1915.40 Z" fill="#2e9ee0"/>
<text x="417.28" y="1973" text-anchor="middle" font-size="19" font-weight="bold" fill="#fff">8%</text>
<text transform="translate(415.78,2009) scale(0.85,1)" text-anchor="middle" font-size="13.5" font-weight="bold" fill="#005e9f">JUL</text>
<path d="M476.26,1915.40 C484.26,1929.90 501.36,1947.90 501.36,1965.90 A25.1,25.1 0 0 1 451.16,1965.90 C451.16,1947.90 468.26,1929.90 476.26,1915.40 Z" fill="#2e9ee0"/>
<text x="475.76" y="1973" text-anchor="middle" font-size="19" font-weight="bold" fill="#fff">15%</text>
<text transform="translate(474.26,2009) scale(0.85,1)" text-anchor="middle" font-size="13.5" font-weight="bold" fill="#005e9f">AUG</text>
<path d="M534.74,1915.40 C542.74,1929.90 559.84,1947.90 559.84,1965.90 A25.1,25.1 0 0 1 509.64,1965.90 C509.64,1947.90 526.74,1929.90 534.74,1915.40 Z" fill="#2e9ee0"/>
<text x="534.24" y="1973" text-anchor="middle" font-size="19" font-weight="bold" fill="#fff">21%</text>
<text transform="translate(532.74,2009) scale(0.85,1)" text-anchor="middle" font-size="13.5" font-weight="bold" fill="#005e9f">SEP</text>
<path d="M593.22,1915.40 C601.22,1929.90 618.32,1947.90 618.32,1965.90 A25.1,25.1 0 0 1 568.12,1965.90 C568.12,1947.90 585.22,1929.90 593.22,1915.40 Z" fill="#2e9ee0"/>
<text x="592.72" y="1973" text-anchor="middle" font-size="19" font-weight="bold" fill="#fff">22%</text>
<text transform="translate(591.22,2009) scale(0.85,1)" text-anchor="middle" font-size="13.5" font-weight="bold" fill="#005e9f">OKT</text>
<path d="M651.70,1915.40 C659.70,1929.90 676.80,1947.90 676.80,1965.90 A25.1,25.1 0 0 1 626.60,1965.90 C626.60,1947.90 643.70,1929.90 651.70,1915.40 Z" fill="#2e9ee0"/>
<text x="651.20" y="1973" text-anchor="middle" font-size="19" font-weight="bold" fill="#fff">20%</text>
<text transform="translate(649.70,2009) scale(0.85,1)" text-anchor="middle" font-size="13.5" font-weight="bold" fill="#005e9f">NOV</text>
<path d="M710.18,1915.40 C718.18,1929.90 735.28,1947.90 735.28,1965.90 A25.1,25.1 0 0 1 685.08,1965.90 C685.08,1947.90 702.18,1929.90 710.18,1915.40 Z" fill="#2e9ee0"/>
<text x="709.68" y="1973" text-anchor="middle" font-size="19" font-weight="bold" fill="#fff">11%</text>
<text transform="translate(708.18,2009) scale(0.85,1)" text-anchor="middle" font-size="13.5" font-weight="bold" fill="#005e9f">DEZ</text>
<!--PRECCHARTEND-->
<!--PROB-->
<!--FOOTER-->
<rect x="0" y="2083" width="1200" height="57" fill="#005e9f"/>
<g fill="none" stroke="#a9dcfd" stroke-width="3"><circle cx="58" cy="2111.5" r="16.7"/><circle cx="106.5" cy="2111.5" r="16.7"/><circle cx="154.8" cy="2111.5" r="16.7"/></g>
<text x="58.6" y="2117.4" text-anchor="middle" font-size="21" font-weight="bold" fill="#a9dcfd" letter-spacing="-1.6">cc</text>
<g fill="#a9dcfd"><circle cx="106.5" cy="2100.5" r="2.6"/><path d="M102.5,2104.5 H110.5 V2113 H108.6 V2123.5 H104.4 V2113 H102.5 Z"/><rect x="147.8" y="2107.5" width="14" height="2.9"/><rect x="147.8" y="2113.8" width="14" height="2.9"/></g>
<text x="185.9" y="2117.3" font-size="16.4" font-weight="bold" fill="#a9dcfd" textLength="113" lengthAdjust="spacingAndGlyphs">CC BY-ND 4.0</text>
<text x="980" y="2119.4" font-size="22.4" font-weight="bold" fill="#fff" textLength="177.6" lengthAdjust="spacingAndGlyphs">METEOATLAS.DE</text>
<!--FOOTEREND-->
</svg>
</body></html>
